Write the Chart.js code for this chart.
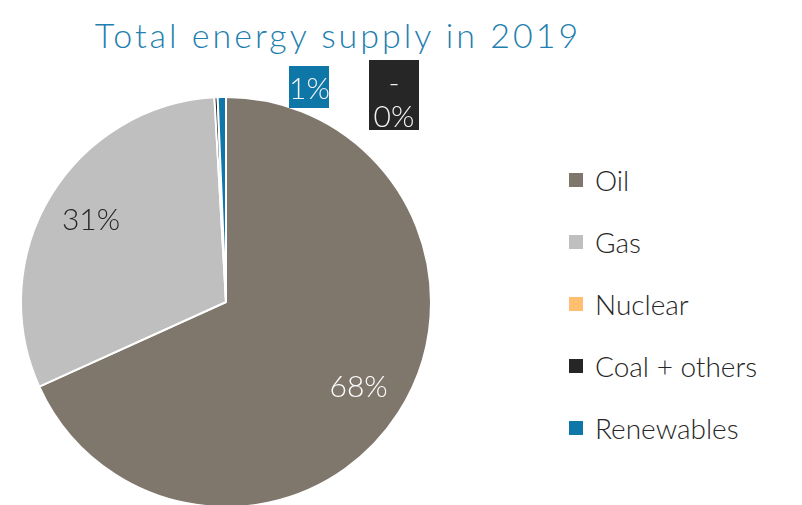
<!DOCTYPE html>
<html>
<head>
<meta charset="utf-8">
<script src="https://cdn.jsdelivr.net/npm/chart.js@4"></script>
<style>
  body { margin:0; width:802px; height:505px; overflow:hidden; background:#fff; position:relative; font-family:Lato, sans-serif; }
  #title { position:absolute; left:0; width:676px; top:14px; text-align:center; font-size:34px; color:#1f7fae; letter-spacing:3px; font-weight:300; }
  #wrap { position:absolute; left:18px; top:94px; width:416px; height:416px; }
  #legend { position:absolute; left:569px; top:149px; }
  .row { height:62px; font-size:28px; color:#262626; display:flex; align-items:center; font-weight:300; }
  .sw { width:14px; height:14px; margin-right:12px; }
  .box { position:absolute; color:#f2f2f2; font-size:30px; font-weight:300; text-align:center; line-height:34px; }
</style>
</head>
<body>
<div id="title">Total energy supply in 2019</div>
<div id="wrap"><canvas id="c"></canvas></div>
<div id="legend"></div>
<script>
let labels = ['Oil', 'Gas', 'Nuclear', 'Coal + others', 'Renewables'];
let values = [68.3, 30.9, 0, 0.25, 0.65];
let valueLabels = ['68%', '31%', '', '-<br>0%', '1%'];
let colors = ['#7f766c', '#bfbfbf', '#ffbf6f', '#262626', '#0f76a8'];

// legend
let legend = document.getElementById('legend');
labels.forEach((l, i) => {
    legend.innerHTML += `<div class="row"><div class="sw" style="background:${colors[i]}"></div>${l}</div>`;
});

// boxed labels for the thin slices
function addBox(i, left, top, w, h) {
    let d = document.createElement('div');
    d.className = 'box';
    d.style.cssText = `left:${left}px;top:${top}px;width:${w}px;height:${h}px;background:${colors[i]};padding-top:4px;box-sizing:border-box;`;
    d.innerHTML = valueLabels[i];
    document.body.appendChild(d);
}
addBox(4, 289, 66, 40, 42);
addBox(3, 369, 60, 50, 70);

let labelPlugin = {
    id: 'sliceLabels',
    afterDraw(chart) {
        let ctx = chart.ctx;
        let arcs = chart.getDatasetMeta(0).data;
        ctx.save();
        ctx.font = '300 30px Lato, sans-serif';
        ctx.textAlign = 'center';
        ctx.textBaseline = 'middle';
        [0, 1].forEach(i => {
            let a = arcs[i];
            let mid = (a.startAngle + a.endAngle) / 2;
            let r = a.outerRadius * 0.77;
            ctx.fillStyle = i === 0 ? '#ffffff' : '#262626';
            ctx.fillText(valueLabels[i], a.x + Math.cos(mid) * r, a.y + Math.sin(mid) * r);
        });
        ctx.restore();
    }
};

new Chart(document.getElementById('c'), {
    type: 'pie',
    data: {
        labels: labels,
        datasets: [{
            data: values,
            backgroundColor: colors,
            borderColor: '#ffffff',
            borderWidth: 2
        }]
    },
    options: {
        responsive: true,
        maintainAspectRatio: false,
        animation: false,
        layout: { padding: 2 },
        plugins: { legend: { display: false }, tooltip: { enabled: false } }
    },
    plugins: [labelPlugin]
});
</script>
</body>
</html>
